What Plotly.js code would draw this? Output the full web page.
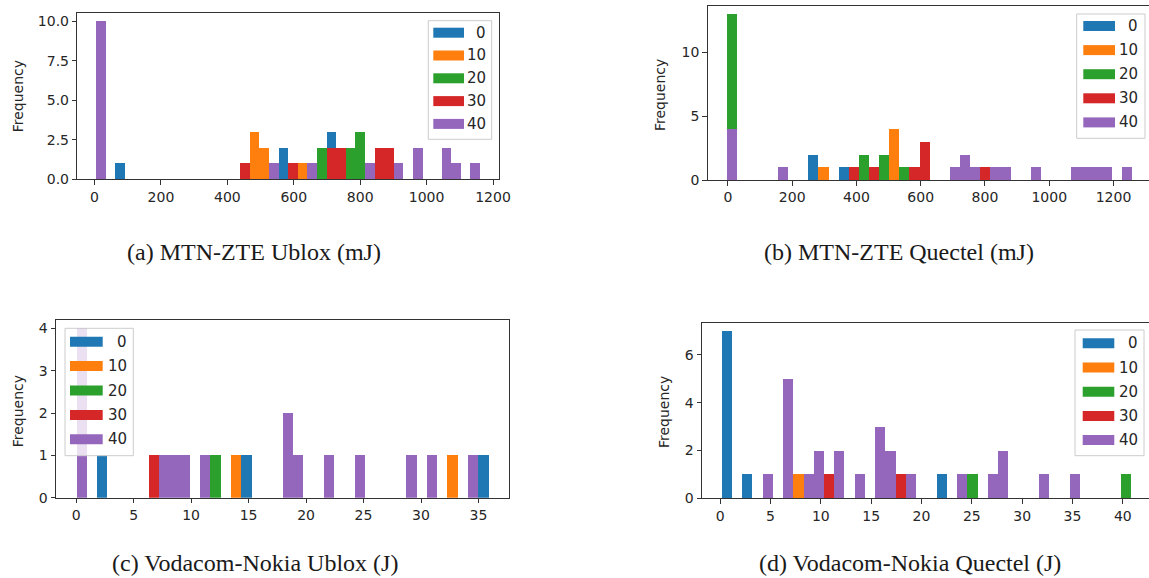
<!DOCTYPE html>
<html><head><meta charset="utf-8">
<script src="https://cdn.plot.ly/plotly-3.0.1.min.js"></script>
<style>html,body{margin:0;padding:0;overflow:hidden;background:#fff}#chart{width:1160px;height:578px}</style>
</head><body><div id="chart"></div>
<script>
// ---------- data ----------
const seriesNames = ['0', '10', '20', '30', '40'];
const seriesColors = ['#1f77b4', '#ff7f0e', '#2ca02c', '#d62728', '#9467bd'];

// (a) MTN-ZTE Ublox (mJ): 40 common bins
const aBinStart = 5, aBinWidth = 28.9;
const a0Bins = [2, 19, 24],                       a0Counts = [1, 2, 3];
const a10Bins = [16, 17, 21],                     a10Counts = [3, 2, 1];
const a20Bins = [23, 26, 27],                     a20Counts = [2, 2, 3];
const a30Bins = [15, 20, 24, 25, 29, 30],         a30Counts = [1, 1, 2, 2, 2, 2];
const a40Bins = [0, 18, 22, 28, 31, 33, 36, 37, 39], a40Counts = [10, 1, 1, 1, 1, 2, 2, 1, 1];

// (b) MTN-ZTE Quectel (mJ)
const bBinStart = -2, bBinWidth = 31.5;
const b0Bins = [8, 11],                           b0Counts = [2, 1];
const b10Bins = [9, 16],                          b10Counts = [1, 4];
const b20Bins = [0, 13, 15, 17],                  b20Counts = [13, 2, 2, 1];
const b30Bins = [12, 14, 18, 19, 25],             b30Counts = [1, 1, 1, 3, 1];
const b40Bins = [0, 5, 22, 23, 24, 26, 27, 30, 34, 35, 36, 37, 39];
const b40Counts = [4, 1, 1, 2, 1, 1, 1, 1, 1, 1, 1, 1, 1];

// (c) Vodacom-Nokia Ublox (J)
const cBinStart = 0.04, cBinWidth = 0.896;
const c0Bins = [2, 16, 39],                       c0Counts = [1, 1, 1];
const c10Bins = [15, 36],                         c10Counts = [1, 1];
const c20Bins = [13],                             c20Counts = [1];
const c30Bins = [7],                              c30Counts = [1];
const c40Bins = [0, 8, 9, 10, 12, 20, 21, 24, 27, 32, 34, 38];
const c40Counts = [4, 1, 1, 1, 1, 2, 1, 1, 1, 1, 1, 1];

// (d) Vodacom-Nokia Quectel (J)
const dBinStart = 0.15, dBinWidth = 1.017;
const d0Bins = [0, 2, 21],                        d0Counts = [7, 1, 1];
const d10Bins = [7],                              d10Counts = [1];
const d20Bins = [24, 39],                         d20Counts = [1, 1];
const d30Bins = [10, 17],                         d30Counts = [1, 1];
const d40Bins = [4, 6, 8, 9, 11, 13, 15, 16, 18, 23, 26, 27, 31, 34];
const d40Counts = [1, 5, 1, 2, 2, 1, 3, 2, 1, 1, 1, 2, 1, 1];

const captions = ['(a) MTN-ZTE Ublox (mJ)', '(b) MTN-ZTE Quectel (mJ)',
                  '(c) Vodacom-Nokia Ublox (J)', '(d) Vodacom-Nokia Quectel (J)'];
const yTitle = 'Frequency';
const aYTicks = [0, 2.5, 5, 7.5, 10], aYTickText = ['0.0', '2.5', '5.0', '7.5', '10.0'];
const bYTicks = [0, 5, 10];
const cYTicks = [0, 1, 2, 3, 4];
const dYTicks = [0, 2, 4, 6];
const abXTicks = [0, 200, 400, 600, 800, 1000, 1200];
const cXTicks = [0, 5, 10, 15, 20, 25, 30, 35];
const dXTicks = [0, 5, 10, 15, 20, 25, 30, 35, 40];

// ---------- layout helpers ----------
const PW = 1160, PH = 578;
const px = v => v / PW;
const py = v => 1 - v / PH;

const panels = [
  {start: aBinStart, width: aBinWidth, bins: [a0Bins, a10Bins, a20Bins, a30Bins, a40Bins],
   counts: [a0Counts, a10Counts, a20Counts, a30Counts, a40Counts], xa: 'x', ya: 'y'},
  {start: bBinStart, width: bBinWidth, bins: [b0Bins, b10Bins, b20Bins, b30Bins, b40Bins],
   counts: [b0Counts, b10Counts, b20Counts, b30Counts, b40Counts], xa: 'x2', ya: 'y2'},
  {start: cBinStart, width: cBinWidth, bins: [c0Bins, c10Bins, c20Bins, c30Bins, c40Bins],
   counts: [c0Counts, c10Counts, c20Counts, c30Counts, c40Counts], xa: 'x3', ya: 'y3'},
  {start: dBinStart, width: dBinWidth, bins: [d0Bins, d10Bins, d20Bins, d30Bins, d40Bins],
   counts: [d0Counts, d10Counts, d20Counts, d30Counts, d40Counts], xa: 'x4', ya: 'y4'}
];

const traces = [];
panels.forEach(p => {
  seriesNames.forEach((name, s) => {
    traces.push({
      type: 'bar', name: name,
      x: p.bins[s].map(i => p.start + (i + 0.5) * p.width),
      y: p.counts[s],
      width: p.width,
      marker: {color: seriesColors[s], opacity: 1, line: {width: 0}},
      xaxis: p.xa, yaxis: p.ya, showlegend: false, hoverinfo: 'skip'
    });
  });
});

const tickFont = {family: 'DejaVu Sans', size: 14, color: '#262626'};
function axis(domain, range, extra) {
  return Object.assign({
    domain: domain, range: range, showgrid: false, zeroline: false,
    showline: true, mirror: true, linecolor: '#333', linewidth: 1,
    ticks: 'outside', ticklen: 4.5, tickwidth: 1, tickcolor: '#333',
    tickfont: tickFont, fixedrange: true
  }, extra);
}

const layout = {
  width: PW, height: PH, margin: {l: 0, r: 0, t: 0, b: 0},
  paper_bgcolor: '#fff', plot_bgcolor: '#fff', barmode: 'overlay', bargap: 0,
  showlegend: false,
  xaxis:  axis([px(77.3), px(499)], [-52, 1218], {anchor: 'y', tickmode: 'array', tickvals: abXTicks}),
  yaxis:  axis([py(179.3), py(13.3)], [0, 10.5], {anchor: 'x', tickmode: 'array', tickvals: aYTicks, ticktext: aYTickText}),
  xaxis2: axis([px(707.7), px(1153)], [-63, 1323], {anchor: 'y2', tickmode: 'array', tickvals: abXTicks}),
  yaxis2: axis([py(180), py(6)], [0, 13.65], {anchor: 'x2', tickmode: 'array', tickvals: bYTicks}),
  xaxis3: axis([px(56), px(509.3)], [-1.75, 37.68], {anchor: 'y3', tickmode: 'array', tickvals: cXTicks}),
  yaxis3: axis([py(497.7), py(320)], [0, 4.2], {anchor: 'x3', tickmode: 'array', tickvals: cYTicks}),
  xaxis4: axis([px(702), px(1152)], [-1.8, 42.9], {anchor: 'y4', tickmode: 'array', tickvals: dXTicks}),
  yaxis4: axis([py(498.3), py(322.7)], [0, 7.35], {anchor: 'x4', tickmode: 'array', tickvals: dYTicks}),
  shapes: [], annotations: []
};

// y-axis titles
[[18.3, 96], [660, 95], [18.3, 411], [664, 412]].forEach(([x, y]) => {
  layout.annotations.push({xref: 'paper', yref: 'paper', x: px(x), y: py(y), text: yTitle,
    textangle: -90, showarrow: false, xanchor: 'center', yanchor: 'middle',
    font: {family: 'DejaVu Sans', size: 14, color: '#262626'}});
});

// captions
[[254, 252], [898.5, 252], [255, 563], [909.5, 563]].forEach(([x, y], i) => {
  layout.annotations.push({xref: 'paper', yref: 'paper', x: px(x), y: py(y), text: captions[i],
    showarrow: false, xanchor: 'center', yanchor: 'middle',
    font: {family: 'Liberation Serif', size: 24, color: '#1a1a1a'}});
});

// legends (matplotlib style: framed box, wide colour patches, right-aligned labels)
const legends = [
  {box: [428.3, 20.7, 491.7, 139.3], sw: [433.3, 464], y0: 32.7, step: 22.8, tr: 488},
  {box: [1076.7, 14, 1145, 138.3], sw: [1083.3, 1115], y0: 26, step: 24.1, tr: 1139.5},
  {box: [65, 328.3, 133.3, 455.7], sw: [70, 102.7], y0: 341.7, step: 24.4, tr: 128.5},
  {box: [1075, 330, 1144, 455.7], sw: [1082.7, 1114.3], y0: 343.3, step: 24.2, tr: 1139.5}
];
legends.forEach(L => {
  layout.shapes.push({type: 'rect', xref: 'paper', yref: 'paper', layer: 'above',
    x0: px(L.box[0]), x1: px(L.box[2]), y0: py(L.box[3]), y1: py(L.box[1]),
    fillcolor: 'rgba(255,255,255,0.8)', line: {color: '#cccccc', width: 1}});
  seriesNames.forEach((name, s) => {
    const yc = L.y0 + s * L.step;
    layout.shapes.push({type: 'rect', xref: 'paper', yref: 'paper', layer: 'above',
      x0: px(L.sw[0]), x1: px(L.sw[1]), y0: py(yc + 5), y1: py(yc - 5),
      fillcolor: seriesColors[s], line: {width: 0}});
    layout.annotations.push({xref: 'paper', yref: 'paper', x: px(L.tr), y: py(yc),
      text: name, showarrow: false, xanchor: 'right', yanchor: 'middle',
      font: {family: 'DejaVu Sans', size: 15, color: '#262626'}});
  });
});

Plotly.newPlot('chart', traces, layout, {staticPlot: true, displayModeBar: false});
</script>
</body></html>
